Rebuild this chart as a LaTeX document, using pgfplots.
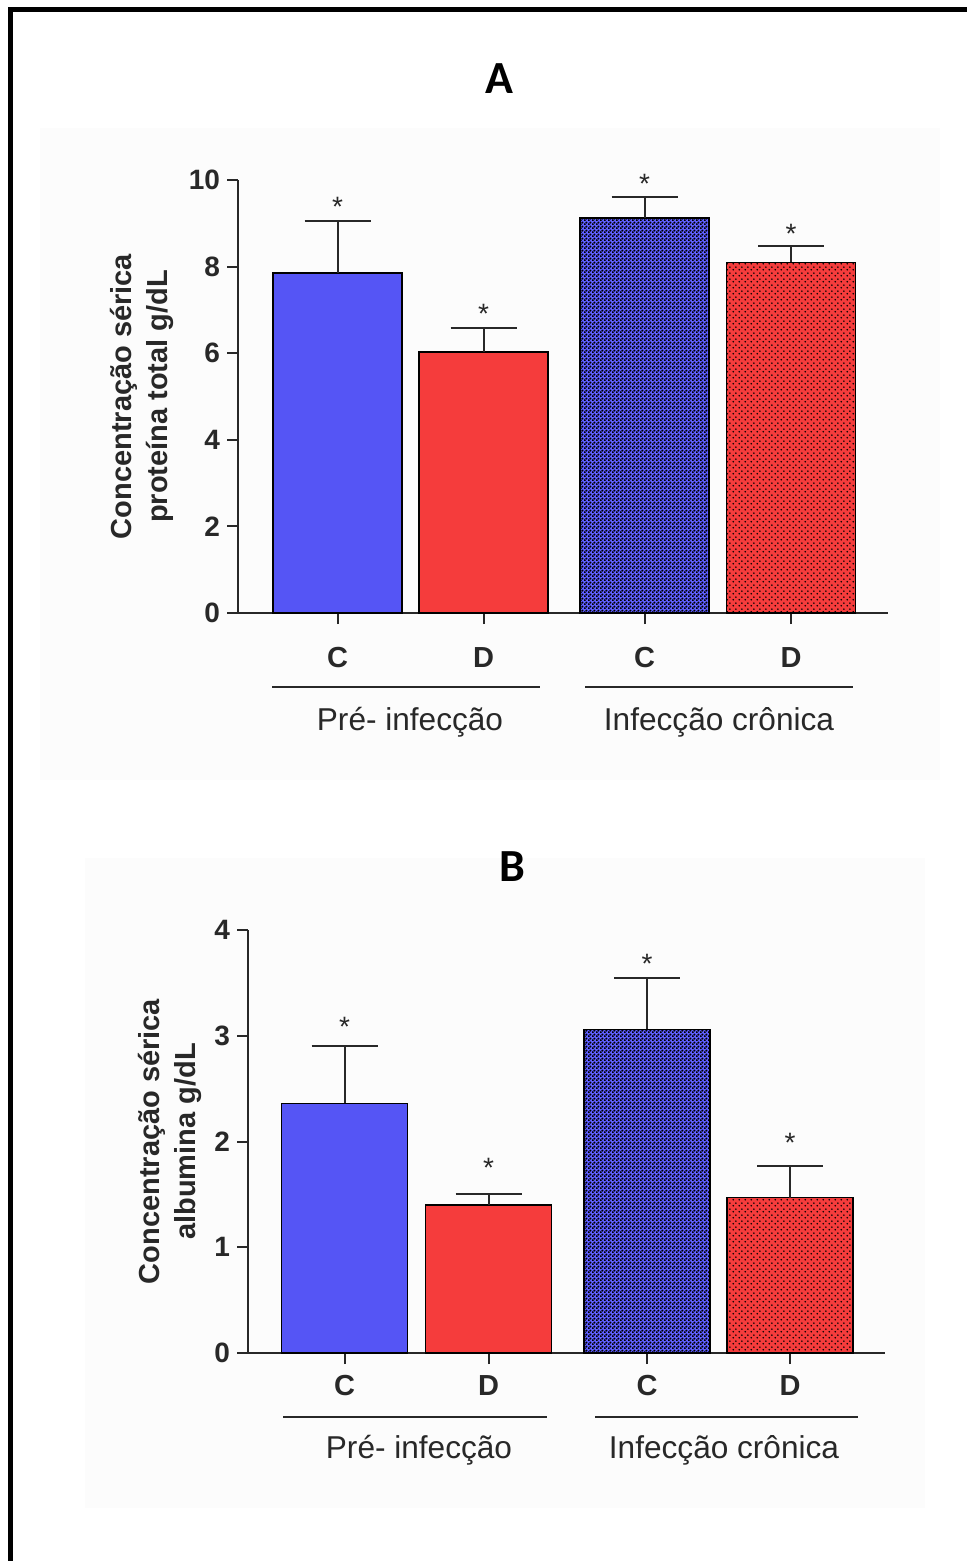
\documentclass[border=0pt]{standalone}
\usepackage{fontspec}
\setmainfont{Liberation Sans}
\newfontfamily\titlefont{Carlito}
\usepackage{pgfplots}
\pgfplotsset{compat=1.18}
\usetikzlibrary{patterns}

\pgfdeclarepatternformonly{densedots}{\pgfpointorigin}{\pgfpoint{2pt}{2pt}}{\pgfpoint{2pt}{2pt}}{%
  \pgfpathcircle{\pgfpoint{0.5pt}{0.5pt}}{0.7pt}%
  \pgfpathcircle{\pgfpoint{1.5pt}{1.5pt}}{0.7pt}%
  \pgfusepath{fill}}
\pgfdeclarepatternformonly{sparsedots}{\pgfpointorigin}{\pgfpoint{3pt}{3pt}}{\pgfpoint{3pt}{3pt}}{%
  \pgfpathcircle{\pgfpoint{0.75pt}{0.75pt}}{0.5pt}%
  \pgfpathcircle{\pgfpoint{2.25pt}{2.25pt}}{0.5pt}%
  \pgfusepath{fill}}

\definecolor{bl}{RGB}{85,85,245}
\definecolor{rd}{RGB}{245,60,60}
\definecolor{pbl}{RGB}{95,95,255}
\definecolor{prd}{RGB}{245,60,60}
\definecolor{ax}{RGB}{40,40,40}
\definecolor{bg}{RGB}{252,252,252}

\pgfplotsset{
  panel/.style={
    scale only axis,
    axis lines=left,
    axis line style={-, line width=1pt, ax},
    tick style={line width=1pt, ax},
    tick align=outside,
    major tick length=5.5pt,
    ymin=0,
    /pgf/number format/assume math mode=true,
    yticklabel style={font=\bfseries\fontsize{14}{14}\selectfont, text=ax},
    xticklabel style={font=\bfseries\fontsize{14.5}{14.5}\selectfont, text=ax},
    xticklabels={C,D,C,D},
    ylabel style={align=center, font=\bfseries\fontsize{14.5}{18}\selectfont, text=ax, anchor=center},
    clip=false,
  },
  cbar/.style={ybar, bar shift=0pt, draw=black, line width=0.7pt,
    error bars/y dir=plus, error bars/y explicit,
    error bars/error mark=|,
    error bars/error bar style={line width=1pt, ax},
    error bars/error mark options={line width=1pt, ax, mark size=16.5pt}},
  stars/.style={draw=none, mark=none, nodes near coords={*},
    every node near coord/.append style={anchor=center, yshift=-3pt,
      font=\fontsize{14}{14}\selectfont, text=ax}},
}

\begin{document}
\begin{tikzpicture}
\path[use as bounding box] (0,0) rectangle (483.5pt,-780.5pt);
\begin{scope}[x=0.5pt,y=-0.5pt]
  \fill[bg] (40,128) rectangle (940,780);
  \fill[bg] (85,858) rectangle (925,1508);
  \draw[line width=2.5pt, miter limit=2] (10.5,1570) -- (10.5,9.5) -- (975,9.5);
  \node[font=\titlefont\bfseries\fontsize{23}{23}\selectfont] at (499,79) {A};
  \node[font=\titlefont\bfseries\fontsize{23}{23}\selectfont] at (512,867) {B};
\end{scope}

% Panel A
\begin{axis}[panel,
  at={(119pt,-306.5pt)}, anchor=south west,
  width=325pt, height=216.5pt,
  xmin=2.38, xmax=8.88, ymax=10,
  ytick={0,2,4,6,8,10},
  xtick={3.375,4.835,6.445,7.91},
  xticklabel style={yshift=-8pt},
  ylabel={Concentração sérica\\proteína total g/dL},
  ylabel style={at={(axis description cs:-0.148,0.5)}},
]
\addplot[cbar, bar width=1.29, fill=bl] coordinates {(3.375,7.85) +- (0,1.20)};
\addplot[cbar, bar width=1.29, fill=rd] coordinates {(4.835,6.03) +- (0,0.55)};
\addplot[cbar, bar width=1.29, fill=pbl, postaction={pattern=densedots, pattern color=black}] coordinates {(6.445,9.12) +- (0,0.48)};
\addplot[cbar, bar width=1.29, fill=prd, postaction={pattern=sparsedots, pattern color=black}] coordinates {(7.91,8.10) +- (0,0.37)};
\addplot[stars] coordinates {(3.375,9.51) (4.835,7.04) (6.445,10.05) (7.91,8.89)};
\end{axis}

% Panel B
\begin{axis}[panel,
  at={(124pt,-676.5pt)}, anchor=south west,
  width=318.5pt, height=211.5pt,
  xmin=2.48, xmax=8.85, ymax=4,
  ytick={0,1,2,3,4},
  xtick={3.445,4.885,6.47,7.90},
  xticklabel style={yshift=-2pt},
  ylabel={Concentração sérica\\albumina g/dL},
  ylabel style={at={(axis description cs:-0.1225,0.5)}},
]
\addplot[cbar, bar width=1.26, fill=bl] coordinates {(3.445,2.36) +- (0,0.54)};
\addplot[cbar, bar width=1.26, fill=rd] coordinates {(4.885,1.40) +- (0,0.10)};
\addplot[cbar, bar width=1.26, fill=pbl, postaction={pattern=densedots, pattern color=black}] coordinates {(6.47,3.06) +- (0,0.49)};
\addplot[cbar, bar width=1.26, fill=prd, postaction={pattern=sparsedots, pattern color=black}] coordinates {(7.90,1.47) +- (0,0.30)};
\addplot[stars] coordinates {(3.445,3.14) (4.885,1.81) (6.47,3.735) (7.90,2.04)};
\end{axis}

\begin{scope}[x=0.5pt,y=-0.5pt]
  \draw[line width=1.2pt, ax] (272,687) -- (540,687);
  \draw[line width=1.2pt, ax] (585,687) -- (853,687);
  \node[font=\fontsize{15.8}{15.8}\selectfont, text=ax] at (410,722) {Pré- infecção};
  \node[font=\fontsize{15.8}{15.8}\selectfont, text=ax] at (719,722) {Infecção crônica};
  \draw[line width=1.2pt, ax] (283,1417) -- (547,1417);
  \draw[line width=1.2pt, ax] (595,1417) -- (858,1417);
  \node[font=\fontsize{15.8}{15.8}\selectfont, text=ax] at (419,1450) {Pré- infecção};
  \node[font=\fontsize{15.8}{15.8}\selectfont, text=ax] at (724,1450) {Infecção crônica};
\end{scope}
\end{tikzpicture}
\end{document}
